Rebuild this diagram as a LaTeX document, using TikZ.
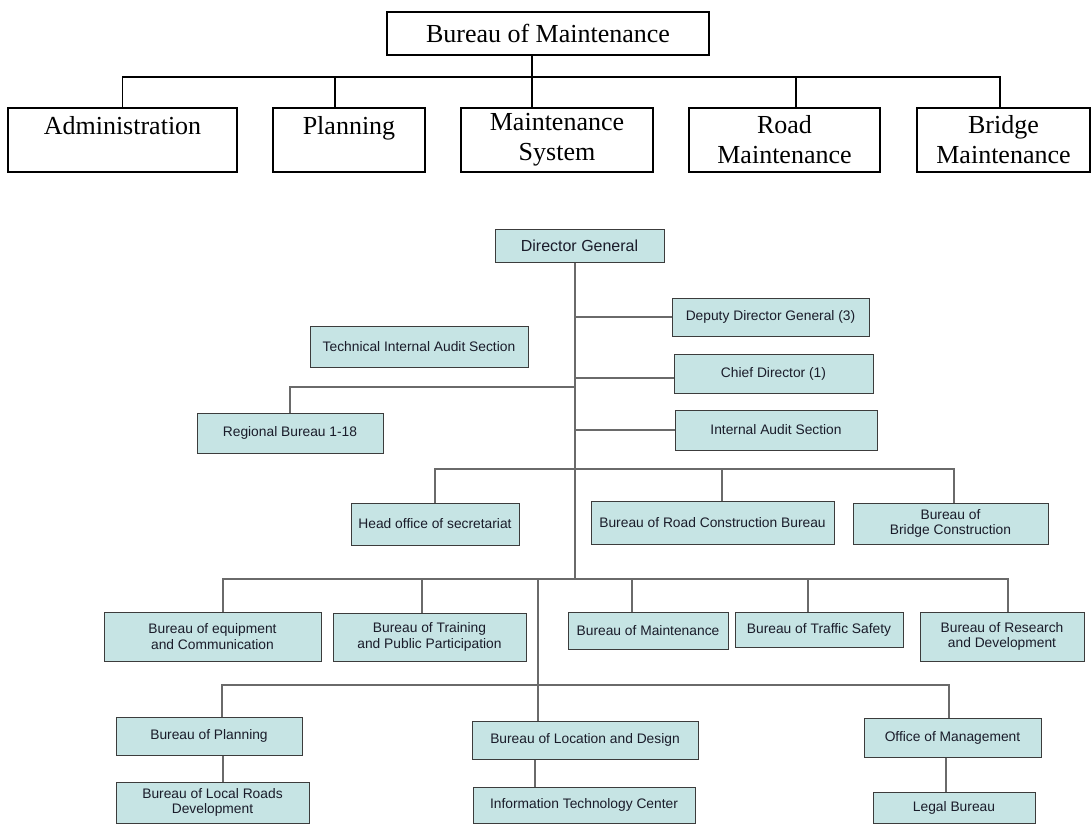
\documentclass[tikz,border=0pt]{standalone}
\usepackage{fontspec}
\setmainfont{Liberation Serif}
\newfontfamily\chartfont{Liberation Sans}

\definecolor{boxfill}{HTML}{C6E4E4}
\definecolor{boxline}{HTML}{3C3C3C}
\definecolor{wire}{HTML}{6A6A6A}
\definecolor{ink}{HTML}{1A1C2A}

\tikzset{
  topbox/.style={draw, line width=1.5pt, inner sep=0pt, align=center, font=\fontsize{26}{30}\selectfont},
  topthick/.style={topbox, line width=2.6pt},
  toplink/.style={draw, line width=1.4pt},
  unit/.style={draw=boxline, fill=boxfill, line width=1pt, inner sep=0pt, align=center, text=ink, font=\chartfont\fontsize{13.8}{15.5}\selectfont},
  link/.style={draw=wire, line width=1.2pt},
}

\begin{document}
\begin{tikzpicture}[x=1pt, y=-1pt]
\useasboundingbox (0,0) rectangle (1092,824);

% small chart on top
\node[topbox, minimum width=322pt, minimum height=43pt] (bom) at (548,33.5) {Bureau of Maintenance};
\node[topbox, minimum width=229pt, minimum height=64pt] (admin) at (122.5,140) {Administration\\\mbox{}};
\node[topthick, minimum width=152pt, minimum height=64pt] (plan) at (349,140) {Planning\\\mbox{}};
\node[topthick, minimum width=192pt, minimum height=64pt] (msys) at (557,140) {Maintenance\\System};
\node[topthick, minimum width=191pt, minimum height=64pt] (road) at (784.5,140) {Road\\Maintenance};
\node[topbox, minimum width=173pt, minimum height=64pt] (bridge) at (1003.5,140) {Bridge\\Maintenance};

\coordinate (tbus) at (532,77);
\draw[toplink] (bom.south -| tbus) -- (tbus);
\draw[toplink] (admin.north) |- (tbus) -| ([xshift=-3.5pt]bridge.north);
\draw[toplink] ([xshift=-14pt]plan.north) -- ([xshift=-14pt]plan.north |- tbus);
\draw[toplink] (tbus) -- (msys.north -| tbus);
\draw[toplink] ([xshift=11.5pt]road.north) -- ([xshift=11.5pt]road.north |- tbus);

% department chart
\node[unit, font=\chartfont\fontsize{16}{18}\selectfont, minimum width=169pt, minimum height=33pt] (dg) at (579.5,245.5) {Director General};
\node[unit, minimum width=197pt, minimum height=38pt] (depu) at (770.5,317) {Deputy Director General (3)};
\node[unit, minimum width=218pt, minimum height=41pt] (tech) at (419,346.5) {Technical Internal Audit Section};
\node[unit, minimum width=199pt, minimum height=39pt] (chief) at (773.5,373.5) {Chief Director (1)};
\node[unit, minimum width=186pt, minimum height=40pt] (regional) at (290,433) {Regional Bureau 1-18};
\node[unit, minimum width=202pt, minimum height=40pt] (iaudit) at (776,430) {Internal Audit Section};

\node[unit, minimum width=168pt, minimum height=42pt] (head) at (435,524) {Head office of secretariat};
\node[unit, minimum width=243pt, minimum height=43pt] (roadc) at (712.5,522.5) {Bureau of Road Construction Bureau};
\node[unit, minimum width=195pt, minimum height=41pt] (bridgec) at (950.5,523.5) {Bureau of\\Bridge Construction};

\node[unit, minimum width=217pt, minimum height=49pt] (equip) at (212.5,636.5) {Bureau of equipment\\and Communication};
\node[unit, minimum width=193pt, minimum height=48pt] (training) at (429.5,637) {Bureau of Training\\and Public Participation};
\node[unit, minimum width=160pt, minimum height=37pt] (maint) at (648,630.5) {Bureau of Maintenance};
\node[unit, minimum width=168pt, minimum height=35pt] (traffic) at (819,629.5) {Bureau of Traffic Safety};
\node[unit, minimum width=164pt, minimum height=49pt] (research) at (1002,636.5) {Bureau of Research\\and Development};

\node[unit, minimum width=186pt, minimum height=38pt] (lplan) at (209,736) {Bureau of Planning};
\node[unit, minimum width=193pt, minimum height=41pt] (local) at (212.5,802.5) {Bureau of Local Roads\\Development};
\node[unit, minimum width=226pt, minimum height=38pt] (loc) at (585,740) {Bureau of Location and Design};
\node[unit, minimum width=222pt, minimum height=36pt] (it) at (584,805) {Information Technology Center};
\node[unit, minimum width=177pt, minimum height=39pt] (office) at (952.5,737.5) {Office of Management};
\node[unit, minimum width=162pt, minimum height=31pt] (legal) at (954,807.5) {Legal Bureau};

% joints on the trunk
\coordinate (j1) at (575,387);
\coordinate (j2) at (575,469);
\coordinate (j3) at (575,579);
\coordinate (j4) at (538,579);
\coordinate (j5) at (538,685);

\draw[link] (dg.south -| j3) -- (j3);
\draw[link] (depu.west) -- (depu.west -| j3);
\draw[link] ([yshift=-4.5pt]chief.west) -- ([yshift=-4.5pt]chief.west -| j3);
\draw[link] (iaudit.west) -- (iaudit.west -| j3);
\draw[link] (regional.north) |- (j1);

\draw[link] (head.north) |- (j2) -| ([xshift=3.5pt]bridgec.north);
\draw[link] ([xshift=9.5pt]roadc.north) -- ([xshift=9.5pt]roadc.north |- j2);

\draw[link] ([xshift=10.5pt]equip.north) |- (j3) -| ([xshift=6pt]research.north);
\draw[link] ([xshift=-7.5pt]training.north) -- ([xshift=-7.5pt]training.north |- j3);
\draw[link] ([xshift=-16pt]maint.north) -- ([xshift=-16pt]maint.north |- j3);
\draw[link] ([xshift=-11pt]traffic.north) -- ([xshift=-11pt]traffic.north |- j3);

\draw[link] (j4) -- (j5) -- (j5 |- loc.north);
\draw[link] ([xshift=13pt]lplan.north) |- (j5) -| ([xshift=-3.5pt]office.north);
\draw[link] ([xshift=14pt]lplan.south) -- ([xshift=14pt]lplan.south |- local.north);
\draw[link] ([xshift=-50pt]loc.south) -- ([xshift=-50pt]loc.south |- it.north);
\draw[link] ([xshift=-6.5pt]office.south) -- ([xshift=-6.5pt]office.south |- legal.north);
\end{tikzpicture}
\end{document}
